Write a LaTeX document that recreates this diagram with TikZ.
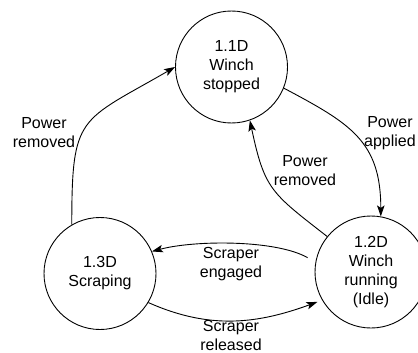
\documentclass[tikz,border=0pt]{standalone}
\usepackage{fontspec}
\setmainfont{Liberation Sans}
\usetikzlibrary{arrows.meta}
\begin{document}
\begin{tikzpicture}[x=1pt,y=1pt,
  state/.style={draw,circle,line width=0.9pt,minimum size=112pt,inner sep=0pt,align=center,
    font=\fontsize{16pt}{19pt}\selectfont},
  lbl/.style={align=center,inner sep=0pt,font=\fontsize{16pt}{19pt}\selectfont},
  conn/.style={line width=0.9pt,-{Stealth[length=11pt,width=7.5pt,inset=2.5pt]}}]
\useasboundingbox (0,0) rectangle (418,-353);
\node[state] (A) at (231.5,-67) {1.1D\\Winch\\stopped};
\node[state] (B) at (371,-272) {1.2D\\Winch\\running\\(Idle)};
\node[state] (C) at (100,-273.5) {1.3D\\Scraping};
\node[lbl] (l1) at (44,-133) {Power\\removed};
\node[lbl] (l2) at (390,-133) {Power\\applied};
\node[lbl] (l3) at (305,-171) {Power\\removed};
\node[lbl] (l4) at (231,-264) {Scraper\\engaged};
\node[lbl] (l5) at (231,-335.5) {Scraper\\released};
\draw[conn] (C.120) to[out=90,in=210,looseness=1.5] (A.180);
\draw[conn] (A.-22) to[out=-28,in=90,looseness=1.2] (B.80);
\draw[conn] (B.141) to[out=142,in=-78,looseness=1.3] (A.-71);
\draw[conn,shorten <=9pt] (B.170) to[out=150,in=15,looseness=0.7] (C.23);
\draw[conn,shorten >=5pt] (C.-31) to[out=-24,in=200,looseness=1] (B.-150);
\end{tikzpicture}
\end{document}
